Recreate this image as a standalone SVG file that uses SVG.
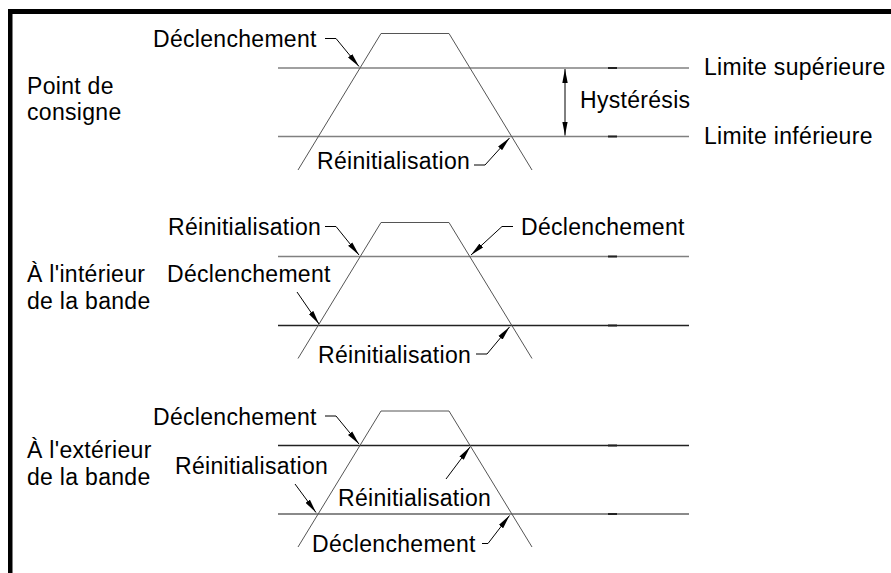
<svg xmlns="http://www.w3.org/2000/svg" width="891" height="573" viewBox="0 0 891 573">
<style>
text{font-family:"Liberation Sans",Arial,sans-serif;font-size:23px;letter-spacing:0.3px;fill:#000}
.lvl{stroke:#808080;stroke-width:1.3;fill:none}
.lvld{stroke:#222;stroke-width:1.3;fill:none}
.lvlg{stroke:#8a8a8a;stroke-width:2;fill:none}
.trap{stroke:#555;stroke-width:1;fill:none}
.tick{fill:#222}
.ldr{stroke:#000;stroke-width:1;fill:none;marker-end:url(#ah)}
.dim{stroke:#000;stroke-width:1;fill:none;marker-start:url(#ah2);marker-end:url(#ah)}
</style>
<defs>
<marker id="ah" markerUnits="userSpaceOnUse" viewBox="0 0 14 6" refX="14" refY="3" markerWidth="14" markerHeight="6" orient="auto"><path d="M0,0.3 L14,3 L0,5.7 z" fill="#000"/></marker>
<marker id="ah2" markerUnits="userSpaceOnUse" viewBox="0 0 14 6" refX="0" refY="3" markerWidth="14" markerHeight="6" orient="auto"><path d="M14,0.3 L0,3 L14,5.7 z" fill="#000"/></marker>
</defs>
<rect width="891" height="573" fill="#fff"/>
<g id="frame">
<rect x="8" y="9" width="883" height="5" fill="#000"/>
<rect x="8" y="9" width="4.5" height="564" fill="#000"/>
</g>

<g id="panel-setpoint">
<text x="27" y="94">Point de</text>
<text x="27" y="120">consigne</text>
<line class="lvl" x1="278" y1="68" x2="689" y2="68"/>
<line class="lvl" x1="278" y1="136.5" x2="689" y2="136.5"/>
<rect class="tick" x="608" y="67" width="9" height="2"/>
<rect class="tick" x="608" y="135.5" width="9" height="2"/>
<polyline class="trap" points="298,170 381,33.5 449,33.5 532,170"/>
<text x="153" y="46.5">Déclenchement</text>
<text x="317" y="168.5">Réinitialisation</text>
<text x="580" y="108">Hystérésis</text>
<text x="704" y="75">Limite supérieure</text>
<text x="704" y="143.5">Limite inférieure</text>
</g>

<g id="panel-inside">
<text x="27" y="282">À l'intérieur</text>
<text x="27" y="309">de la bande</text>
<line class="lvl" x1="278" y1="256.5" x2="689" y2="256.5"/>
<line class="lvld" x1="278" y1="325.5" x2="689" y2="325.5"/>
<rect class="tick" x="608" y="255.5" width="9" height="2"/>
<rect class="tick" x="608" y="324.5" width="9" height="2"/>
<polyline class="trap" points="298,358.5 381,222.5 449,222.5 532,358.5"/>
<text x="168" y="235">Réinitialisation</text>
<text x="521" y="235">Déclenchement</text>
<text x="167" y="282">Déclenchement</text>
<text x="318" y="363">Réinitialisation</text>
</g>

<g id="panel-outside">
<text x="27" y="457.5">À l'extérieur</text>
<text x="27" y="484.5">de la bande</text>
<line class="lvld" x1="278" y1="445.5" x2="689" y2="445.5"/>
<line class="lvlg" x1="278" y1="514" x2="689" y2="514"/>
<rect class="tick" x="608" y="444.5" width="9" height="2"/>
<rect class="tick" x="608" y="513" width="9" height="2"/>
<polyline class="trap" points="298,547 381,411 449,411 532,547"/>
<text x="153" y="424.5">Déclenchement</text>
<text x="175" y="474">Réinitialisation</text>
<text x="338" y="506">Réinitialisation</text>
<text x="312" y="551.5">Déclenchement</text>
</g>

<g id="connectors">
<polyline class="ldr" points="325,38.5 336,38.5 359,66.5"/>
<polyline class="ldr" points="474,165 485,165 509.5,138"/>
<line class="dim" x1="565" y1="69" x2="565" y2="135.5"/>

<polyline class="ldr" points="325,226.5 336,226.5 359,255"/>
<polyline class="ldr" points="513,226.5 502,226.5 471,255"/>
<line class="ldr" x1="297" y1="292" x2="319" y2="324"/>
<polyline class="ldr" points="476,354 487,354 509.5,327"/>

<polyline class="ldr" points="325,416 336,416 359,444"/>
<line class="ldr" x1="295" y1="484" x2="316" y2="512.5"/>
<line class="ldr" x1="446" y1="479" x2="470" y2="447"/>
<polyline class="ldr" points="482,543.5 488,543.5 509.5,515.5"/>
</g>
</svg>
